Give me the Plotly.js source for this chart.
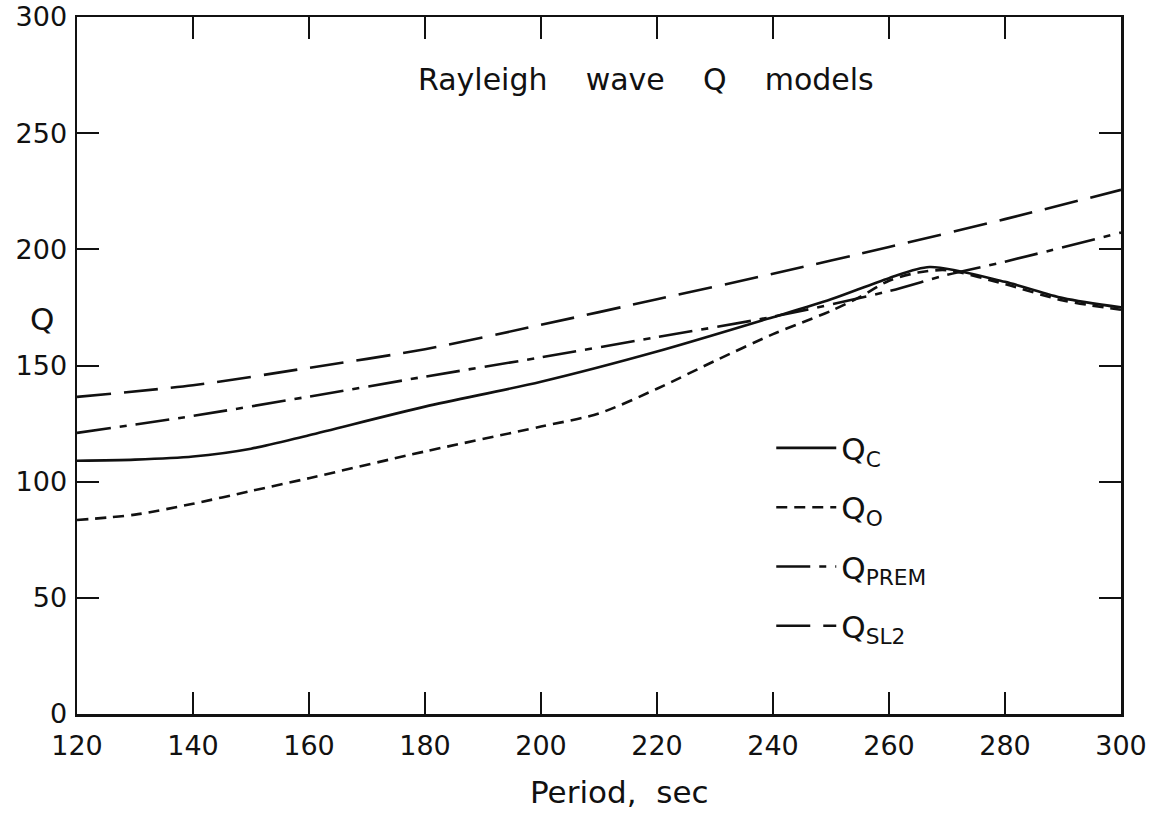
<!DOCTYPE html>
<html>
<head>
<meta charset="utf-8">
<script src="https://cdn.plot.ly/plotly-3.0.1.min.js"></script>
<style>html,body{margin:0;padding:0;background:#fff;}#chart{width:1164px;height:814px;}</style>
</head>
<body>
<div id="chart"></div>
<script>
// Period (sec) and Q values
const periodC = [120, 130, 140, 150, 160, 180, 200, 220, 240, 250, 260, 267, 280, 290, 300];
const qC      = [109, 109.5, 110.8, 114.2, 120, 132.3, 143, 156, 170.8, 178.5, 187.6, 192.4, 186, 179, 175];

const periodO = [120, 130, 140, 150, 160, 180, 200, 210, 220, 230, 240, 245, 250, 255, 260, 265, 270, 280, 290, 300];
const qO      = [83.5, 85.8, 90.5, 96, 101.5, 113, 123.7, 129.4, 140, 152, 163.5, 168.5, 173.5, 179.5, 186.5, 190, 191, 185, 178, 174];

const periodPREM = [120, 140, 160, 180, 200, 220, 240, 260, 270, 280, 300];
const qPREM      = [121, 128.3, 136.6, 145.2, 153.5, 162.2, 171, 182, 189, 194.7, 207.2];

const periodSL2 = [120, 140, 160, 180, 200, 220, 240, 260, 280, 300];
const qSL2      = [136.5, 141.5, 149, 157, 167.5, 178.5, 189.5, 201, 213, 225.6];

const xTicks = [120, 140, 160, 180, 200, 220, 240, 260, 280, 300];
const yTicks = [0, 50, 100, 150, 200, 250, 300];

const seriesNames = ['Q<sub>C</sub>', 'Q<sub>O</sub>', 'Q<sub>PREM</sub>', 'Q<sub>SL2</sub>'];

const FONT = 'DejaVu Sans, sans-serif';
const INK = '#111';

const traces = [
  {x: periodC, y: qC, name: seriesNames[0], legendgroup: 'a',
   mode: 'lines', line: {color: INK, width: 2.6, shape: 'spline', smoothing: 0.8}},
  {x: periodO, y: qO, name: seriesNames[1], legendgroup: 'b',
   mode: 'lines', line: {color: INK, width: 2.6, shape: 'spline', smoothing: 0.8, dash: '11px,7px'}},
  {x: periodPREM, y: qPREM, name: seriesNames[2], legendgroup: 'c',
   mode: 'lines', line: {color: INK, width: 2.6, shape: 'spline', smoothing: 0.8, dash: '34px,9px,7px,9px'}},
  {x: periodSL2, y: qSL2, name: seriesNames[3], legendgroup: 'd',
   mode: 'lines', line: {color: INK, width: 2.6, shape: 'spline', smoothing: 0.8, dash: '34px,13px'}}
];

const layout = {
  width: 1164, height: 814,
  paper_bgcolor: '#fff', plot_bgcolor: '#fff',
  margin: {l: 77, r: 43, t: 17, b: 100, pad: 0},
  font: {family: FONT, color: INK, size: 27},
  showlegend: true,
  legend: {
    x: 0.665, y: 0.42, xanchor: 'left', yanchor: 'top',
    bgcolor: 'rgba(0,0,0,0)', borderwidth: 0,
    font: {family: FONT, size: 31, color: INK},
    tracegroupgap: 16, itemwidth: 60
  },
  xaxis: {
    range: [120, 300], tickmode: 'array', tickvals: xTicks, ticktext: xTicks.map(String),
    ticks: 'inside', ticklen: 22, tickwidth: 2, tickcolor: INK,
    showline: true, linecolor: INK, linewidth: 2.5, mirror: 'ticks',
    showgrid: false, zeroline: false,
    tickfont: {family: FONT, size: 27, color: INK},
    ticklabelstandoff: 6
  },
  yaxis: {
    range: [0, 300], tickmode: 'array', tickvals: yTicks, ticktext: yTicks.map(String),
    ticks: 'inside', ticklen: 22, tickwidth: 2, tickcolor: INK,
    showline: true, linecolor: INK, linewidth: 2.5, mirror: 'ticks',
    showgrid: false, zeroline: false,
    tickfont: {family: FONT, size: 27, color: INK},
    ticklabelstandoff: 2
  },
  annotations: [
    {xref: 'paper', yref: 'paper', x: 0.545, y: 0.91, xanchor: 'center', yanchor: 'middle',
     text: 'Rayleigh&nbsp;&nbsp;&nbsp; wave&nbsp;&nbsp;&nbsp; Q&nbsp;&nbsp;&nbsp; models', showarrow: false,
     font: {family: FONT, size: 30, color: INK}},
    {xref: 'paper', yref: 'y', x: -0.0335, y: 170, xanchor: 'center', yanchor: 'middle',
     text: 'Q', showarrow: false, font: {family: FONT, size: 31, color: INK}},
    {xref: 'paper', yref: 'paper', x: 0.52, y: -0.112, xanchor: 'center', yanchor: 'middle',
     text: 'Period,&nbsp; sec', showarrow: false, font: {family: FONT, size: 31, color: INK}}
  ]
};

Plotly.newPlot('chart', traces, layout, {displayModeBar: false, staticPlot: true});
</script>
</body>
</html>
